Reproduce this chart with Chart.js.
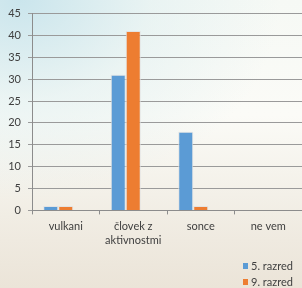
<!DOCTYPE html>
<html><head><meta charset="utf-8">
<script src="https://cdn.jsdelivr.net/npm/chart.js@4/dist/chart.umd.min.js"></script>
<style>
html,body{margin:0;padding:0;}
body{width:302px;height:288px;overflow:hidden;
background:
 radial-gradient(ellipse 260px 200px at 20px 0px, rgba(200,228,236,0.95), rgba(220,238,240,0.5) 50%, rgba(255,255,255,0) 100%),
 linear-gradient(180deg,#f6f9f5 0%,#fbfbf7 40%,#f1ede4 75%,#ebe4d8 100%);}
#wrap{position:relative;width:302px;height:288px;}
</style></head>
<body><div id="wrap"><canvas id="c" width="302" height="288"></canvas></div>
<script>
const categories = ['vulkani', ['človek z','aktivnostmi'], 'sonce', 'ne vem'];
const seriesNames = ['5. razred', '9. razred'];
const razred5 = [1, 31, 18, 0];
const razred9 = [1, 41, 1, 0];
const emptySlot = [null, null, null, null];
const yTicksMax = 45;
const yStep = 5;

const colors = ['#5B9BD5', '#ED7D31'];
const FONT = 'Lato, "Open Sans", sans-serif';

const legendPlugin = {
  id: 'customLegend',
  afterDraw(chart) {
    const ctx = chart.ctx;
    ctx.save();
    ctx.font = '11px ' + FONT;
    ctx.textBaseline = 'middle';
    chart.data.datasets.forEach((ds, i) => {
      if (!ds.label) return;
      const y = 266 + i * 16;
      ctx.fillStyle = ds.backgroundColor;
      ctx.fillRect(243, y - 3, 5, 6);
      ctx.fillStyle = '#404040';
      ctx.fillText(ds.label, 251, y);
    });
    ctx.restore();
  }
};

new Chart(document.getElementById('c'), {
  type: 'bar',
  data: {
    labels: categories,
    datasets: [
      {label: seriesNames[0], data: razred5, backgroundColor: colors[0], borderColor: 'rgba(225,225,225,0.95)', borderWidth: 1},
      {label: seriesNames[1], data: razred9, backgroundColor: colors[1], borderColor: 'rgba(225,225,225,0.95)', borderWidth: 1},
      {label: '', data: emptySlot, backgroundColor: 'rgba(0,0,0,0)', borderWidth: 0}
    ]
  },
  options: {
    responsive: false,
    animation: false,
    devicePixelRatio: 1,
    layout: {padding: {left: 0, top: 9, right: 0, bottom: 35}},
    plugins: {legend: {display: false}, tooltip: {enabled: false}},
    datasets: {bar: {categoryPercentage: 0.667, barPercentage: 1}},
    scales: {
      x: {
        grid: {drawOnChartArea: false, drawTicks: true, tickLength: 4, color: '#8c8c8c', offset: true},
        border: {display: true, color: '#8c8c8c'},
        ticks: {color: '#404040', font: {family: FONT, size: 11, lineHeight: 1.3}, padding: 5, maxRotation: 0, autoSkip: false}
      },
      y: {
        min: 0, max: yTicksMax,
        afterFit(scale) { scale.width = 32; },
        grid: {color: '#9a9a9a', tickLength: 4, lineWidth: 1},
        border: {display: true, color: '#8c8c8c'},
        ticks: {stepSize: yStep, color: '#404040', font: {family: FONT, size: 11}, padding: 7}
      }
    }
  },
  plugins: [legendPlugin]
});
</script></body></html>
